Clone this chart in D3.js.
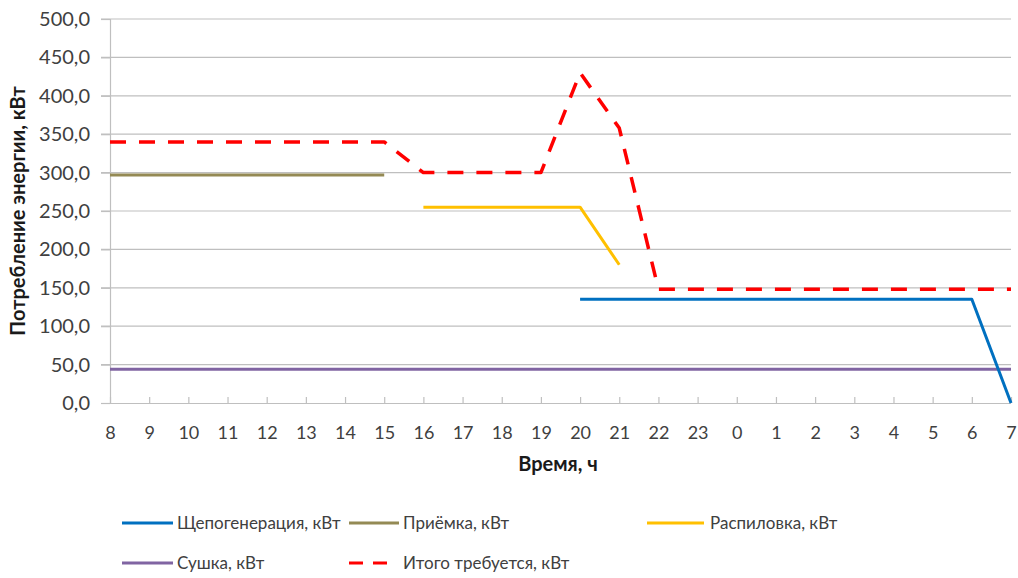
<!DOCTYPE html>
<html>
<head>
<meta charset="utf-8">
<script src="https://cdn.jsdelivr.net/npm/d3@7"></script>
<style>
  body { margin: 0; background: #fff; }
  text { font-family: Lato, "Open Sans", sans-serif; fill: #404040; }
</style>
</head>
<body>
<div id="chart"></div>
<script>
const hours = ["8","9","10","11","12","13","14","15","16","17","18","19","20","21","22","23","0","1","2","3","4","5","6","7"];

// values per hour, null = no value
const chipping = [null,null,null,null,null,null,null,null,null,null,null,null,135,135,135,135,135,135,135,135,135,135,135,0];
const receiving = [297,297,297,297,297,297,297,297,null,null,null,null,null,null,null,null,null,null,null,null,null,null,null,null];
const sawing = [null,null,null,null,null,null,null,null,255,255,255,255,255,180,null,null,null,null,null,null,null,null,null,null];
const drying = [44,44,44,44,44,44,44,44,44,44,44,44,44,44,44,44,44,44,44,44,44,44,44,44];
const total = [340,340,340,340,340,340,340,340,300,300,300,300,430,358,148,148,148,148,148,148,148,148,148,148];

const yTicks = [0,50,100,150,200,250,300,350,400,450,500];

const series = [
  { name: "Щепогенерация, кВт", values: chipping, color: "#0070C0" },
  { name: "Приёмка, кВт", values: receiving, color: "#948A54" },
  { name: "Распиловка, кВт", values: sawing, color: "#FFC000" },
  { name: "Сушка, кВт", values: drying, color: "#8064A2" },
  { name: "Итого требуется, кВт", values: total, color: "#FF0000", dash: "16,13" }
];

const width = 1018, height = 578;
const margin = { left: 110, right: 7, top: 19, bottom: 175 };

const svg = d3.select("#chart").append("svg")
  .attr("width", width)
  .attr("height", height);

const x = d3.scalePoint()
  .domain(hours)
  .range([margin.left, width - margin.right]);

const y = d3.scaleLinear()
  .domain([0, 500])
  .range([height - margin.bottom, margin.top]);

// gridlines
svg.append("g")
  .selectAll("line")
  .data(yTicks.filter(d => d > 0))
  .join("line")
  .attr("x1", margin.left - 9)
  .attr("x2", width - margin.right)
  .attr("y1", d => y(d))
  .attr("y2", d => y(d))
  .attr("stroke", "#BFBFBF")
  .attr("stroke-width", 1.2);

// y axis
const yAxis = svg.append("g")
  .attr("transform", `translate(${margin.left},0)`)
  .call(d3.axisLeft(y).tickValues(yTicks).tickSize(9).tickPadding(11)
    .tickFormat(d => d3.format(".1f")(d).replace(".", ",")));
yAxis.select(".domain").attr("stroke", "#BFBFBF").attr("stroke-width", 1.2);
yAxis.selectAll(".tick line").attr("stroke", "#BFBFBF").attr("stroke-width", 1.2);
yAxis.selectAll("text").style("font-size", "20px").attr("fill", "#404040");

// x axis
const xAxis = svg.append("g")
  .attr("transform", `translate(0,${y(0)})`)
  .call(d3.axisBottom(x).tickSizeInner(-6).tickSizeOuter(0).tickPadding(23));
xAxis.select(".domain").attr("stroke", "#BFBFBF").attr("stroke-width", 1.2)
  .attr("d", `M${margin.left - 9},0.5H${width - margin.right}`);
xAxis.selectAll(".tick line").attr("stroke", "#BFBFBF").attr("stroke-width", 1.2);
xAxis.selectAll("text").style("font-size", "18px").attr("fill", "#404040");

// axis titles
svg.append("text")
  .attr("transform", `translate(25,${(y(500) + y(0)) / 2}) rotate(-90)`)
  .attr("text-anchor", "middle")
  .style("font-size", "20px")
  .style("font-weight", "bold")
  .style("fill", "#1a1a1a")
  .text("Потребление энергии, кВт");

svg.append("text")
  .attr("x", 558)
  .attr("y", 471)
  .attr("text-anchor", "middle")
  .style("font-size", "20px")
  .style("font-weight", "bold")
  .style("fill", "#1a1a1a")
  .text("Время, ч");

// lines
const line = d3.line()
  .defined(d => d.v !== null)
  .x(d => x(d.h))
  .y(d => y(d.v));

const drawOrder = [3, 1, 2, 0, 4];
drawOrder.forEach(i => {
  const s = series[i];
  svg.append("path")
    .datum(hours.map((h, j) => ({ h: h, v: s.values[j] })))
    .attr("fill", "none")
    .attr("stroke", s.color)
    .attr("stroke-width", s.dash ? 3.5 : 3)
    .attr("stroke-dasharray", s.dash || null)
    .attr("stroke-linejoin", "round")
    .attr("d", line);
});

// legend
const legendPos = [
  { x: 122, y: 523, len: 51, tx: 55 },
  { x: 349, y: 523, len: 50, tx: 54 },
  { x: 647, y: 523, len: 57, tx: 63 },
  { x: 122, y: 563, len: 51, tx: 55 },
  { x: 349, y: 563, len: 39, tx: 54 }
];

const legend = svg.append("g")
  .selectAll("g")
  .data(series)
  .join("g")
  .attr("transform", (d, i) => `translate(${legendPos[i].x},${legendPos[i].y})`);

legend.append("line")
  .attr("x1", 0)
  .attr("x2", (d, i) => legendPos[i].len)
  .attr("stroke", d => d.color)
  .attr("stroke-width", 3)
  .attr("stroke-dasharray", d => d.dash ? "14,10" : null);

legend.append("text")
  .attr("x", (d, i) => legendPos[i].tx)
  .attr("dy", "0.35em")
  .style("font-size", "17px")
  .text(d => d.name);
</script>
</body>
</html>
